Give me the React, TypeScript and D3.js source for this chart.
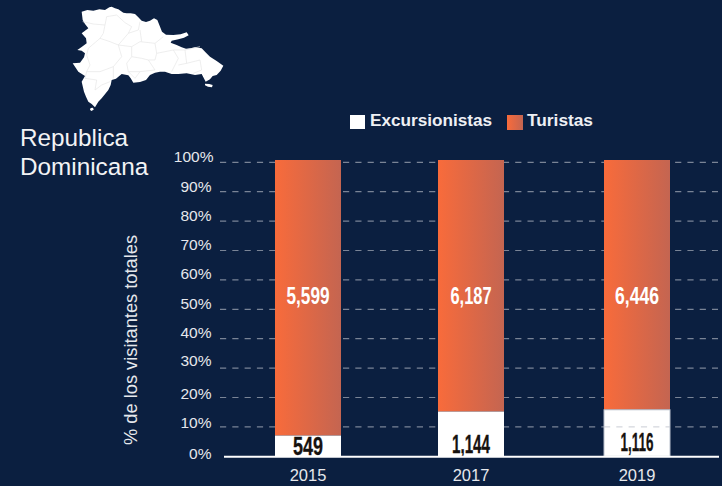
import React from "react";
import * as d3 from "d3";

const years = ["2015", "2017", "2019"];
const excursionistasShare = [7, 15.1, 15.7];
const excursionistasLabels = ["549", "1,144", "1,116"];
const turistasLabels = ["5,599", "6,187", "6,446"];
const yTicks = [0, 10, 20, 30, 40, 50, 60, 70, 80, 90, 100];

const mapOutline: [number, number][] = [
  [65, 35], [82, 30], [100, 32], [118, 28], [135, 30], [148, 22], [155, 20], [165, 25], [175, 28], [190, 38], [200, 40], [212, 40], [225, 42], [235, 52], [245, 62], [258, 66], [270, 62], [282, 55], [292, 60], [298, 75], [306, 95], [318, 104], [340, 105], [362, 103], [380, 97], [386, 106], [372, 113], [355, 118], [335, 122], [332, 128], [350, 135], [365, 142], [378, 146], [392, 145], [405, 142], [425, 145], [438, 158], [450, 170], [470, 183], [490, 197], [482, 212], [470, 225], [458, 228], [450, 238], [437, 245], [425, 222], [405, 225], [380, 220], [355, 222], [335, 222], [315, 215], [300, 215], [285, 218], [270, 225], [258, 240], [240, 246], [220, 248], [212, 235], [205, 226], [185, 222], [168, 236], [155, 240], [152, 255], [145, 270], [125, 295], [115, 305], [105, 322], [95, 312], [85, 305], [78, 290], [72, 275], [65, 245], [75, 228], [55, 215], [48, 205], [38, 190], [60, 188], [72, 172], [75, 160], [65, 152], [52, 150], [66, 140], [80, 130], [78, 115], [65, 100], [85, 85], [75, 72], [68, 60],
];
const mapIslands: [number, number][][] = [
  [[435, 251], [448, 252], [458, 255], [456, 262], [444, 260], [435, 256], [435, 251]],
  [[92, 324], [99, 323], [101, 329], [94, 333], [90, 329], [92, 324]],
];
const mapBorders: [number, number][][] = [
  [[68, 65], [100, 72], [135, 75], [130, 100], [120, 115], [85, 145], [80, 165], [90, 195], [80, 215], [120, 215], [160, 200]],
  [[120, 115], [150, 125], [175, 135], [205, 100], [235, 90], [240, 65]],
  [[135, 75], [140, 50], [170, 45], [195, 68], [215, 80], [205, 100]],
  [[175, 135], [185, 170], [160, 200], [160, 235]],
  [[175, 135], [215, 140], [240, 125], [285, 130], [310, 110]],
  [[240, 90], [245, 125]],
  [[285, 130], [290, 160], [285, 180], [265, 180], [245, 175], [215, 170], [215, 140]],
  [[215, 170], [200, 190], [205, 215], [240, 215], [285, 210], [265, 180]],
  [[290, 160], [340, 150], [375, 150], [420, 140]],
  [[340, 150], [355, 175], [335, 215]],
  [[375, 150], [380, 190], [355, 195]],
  [[380, 190], [420, 180], [425, 210], [400, 220]],
  [[80, 215], [75, 235], [110, 240], [105, 270], [125, 255], [150, 245]],
  [[205, 215], [225, 235], [240, 215]],
];

const BG = "#0B1F40";
const SANS = "'Liberation Sans', Arial, sans-serif";
const NARROW = "'Liberation Sans Narrow', 'Liberation Sans', sans-serif";

const xCenter = d3.scaleOrdinal<string, number>().domain(years).range([308, 471, 637]);
const y = d3.scaleLinear().domain([0, 100]).range([456.3, 162.3]);
const yBar = d3.scaleLinear().domain([0, 100]).range([456.3, 160]);
const mapX = d3.scaleLinear().domain([0, 540]).range([60, 240]);
const mapY = d3.scaleLinear().domain([0, 360]).range([0, 120]);
const mapLine = d3.line<[number, number]>().x((d) => mapX(d[0])).y((d) => mapY(d[1]));

const BAR_W = 66;
const labelWidths = [30, 38, 33];
const labelBaselines = [455, 453, 451];
const topWidths = [43, 41, 44];
const tickLabelDy: Record<number, number> = { 100: 0, 90: 0, 80: 0, 70: -1, 60: -1, 50: 0, 40: -1, 30: -2, 20: 1, 10: 1, 0: 3 };

export default function App() {
  return (
    <svg width={722} height={486} style={{ position: "absolute", left: 0, top: 0, display: "block", background: BG }}>
      <defs>
        <linearGradient id="orange" x1="0" x2="1" y1="0" y2="0">
          <stop offset="0" stopColor="#F86B3B" />
          <stop offset="1" stopColor="#C46551" />
        </linearGradient>
      </defs>
      <rect width={722} height={486} fill={BG} />

      <g>
        <path d={mapLine(mapOutline) + "Z"} fill="#FFFFFF" />
        {mapIslands.map((p, i) => <path key={i} d={mapLine(p) + "Z"} fill="#FFFFFF" />)}
        {mapBorders.map((p, i) => <path key={i} d={mapLine(p) ?? ""} fill="none" stroke="#E6E6E6" strokeWidth={0.7} />)}
      </g>

      <g fontFamily={SANS} fontSize={24.3} fill="#F2F3F5">
        <text x={20} y={146}>Republica</text>
        <text x={20} y={175}>Dominicana</text>
      </g>

      <g fontFamily={SANS} fontWeight={700} fontSize={16} fill="#EEF0F4">
        <rect x={350} y={115} width={15} height={14} fill="#FFFFFF" />
        <text x={370} y={126} textLength={122} lengthAdjust="spacingAndGlyphs">Excursionistas</text>
        <rect x={507} y={115} width={16} height={15} fill="url(#orange)" />
        <text x={527} y={126} textLength={66} lengthAdjust="spacingAndGlyphs">Turistas</text>
      </g>

      <g>
        {yTicks.filter((t) => t > 0).map((t) => (
          <line key={t} x1={220} x2={718} y1={y(t)} y2={y(t)} stroke="#7A8496" strokeWidth={1.2} strokeDasharray="6.2 6.1" />
        ))}
        {yTicks.map((t) => (
          <text key={t} x={t === 100 ? 213.5 : 211.5} y={y(t) + tickLabelDy[t]} textAnchor="end"
            fontFamily={SANS} fontSize={15.5} fill="#E6E8EC">{t}%</text>
        ))}
      </g>

      <text transform="translate(137,340) rotate(-90)" textAnchor="middle" fontFamily={SANS} fontSize={17.5} fill="#E6E8EC"
        textLength={210} lengthAdjust="spacingAndGlyphs">
        % de los visitantes totales
      </text>

      {years.map((yr, i) => {
        const cx = xCenter(yr);
        const x0 = cx - BAR_W / 2;
        const top = yBar(excursionistasShare[i]);
        return (
          <g key={yr}>
            <rect x={x0} y={yBar(100)} width={BAR_W} height={top - yBar(100)} fill="url(#orange)" />
            <rect x={x0} y={top} width={BAR_W} height={yBar(0) - top} fill="#FFFFFF" />
            <text x={cx} y={304} textAnchor="middle" fontFamily={NARROW} fontWeight={700} fontSize={24}
              fill="#FFFFFF" textLength={topWidths[i]} lengthAdjust="spacingAndGlyphs">{turistasLabels[i]}</text>
            <text x={cx} y={labelBaselines[i]} textAnchor="middle" fontFamily={NARROW} fontWeight={700} fontSize={25}
              fill="#17120F" stroke="#17120F" strokeWidth={0.3} textLength={labelWidths[i]} lengthAdjust="spacingAndGlyphs">{excursionistasLabels[i]}</text>
            <text x={cx} y={481} textAnchor="middle" fontFamily={SANS} fontSize={16.5} fill="#E6E8EC">{yr}</text>
          </g>
        );
      })}

      <g>
        <rect x={xCenter("2019") - BAR_W / 2} y={yBar(excursionistasShare[2])} width={BAR_W}
          height={yBar(0) - yBar(excursionistasShare[2])} fill="none" stroke="#B9C0CC" strokeWidth={1} />
        <line x1={xCenter("2019") - BAR_W / 2} x2={xCenter("2019") + BAR_W / 2} y1={y(10)} y2={y(10)}
          stroke="#C9CDD4" strokeWidth={1} strokeDasharray="6.2 6.1" />
      </g>

      <line x1={224} x2={719} y1={456.7} y2={456.7} stroke="#FFFFFF" strokeWidth={2} />
    </svg>
  );
}
